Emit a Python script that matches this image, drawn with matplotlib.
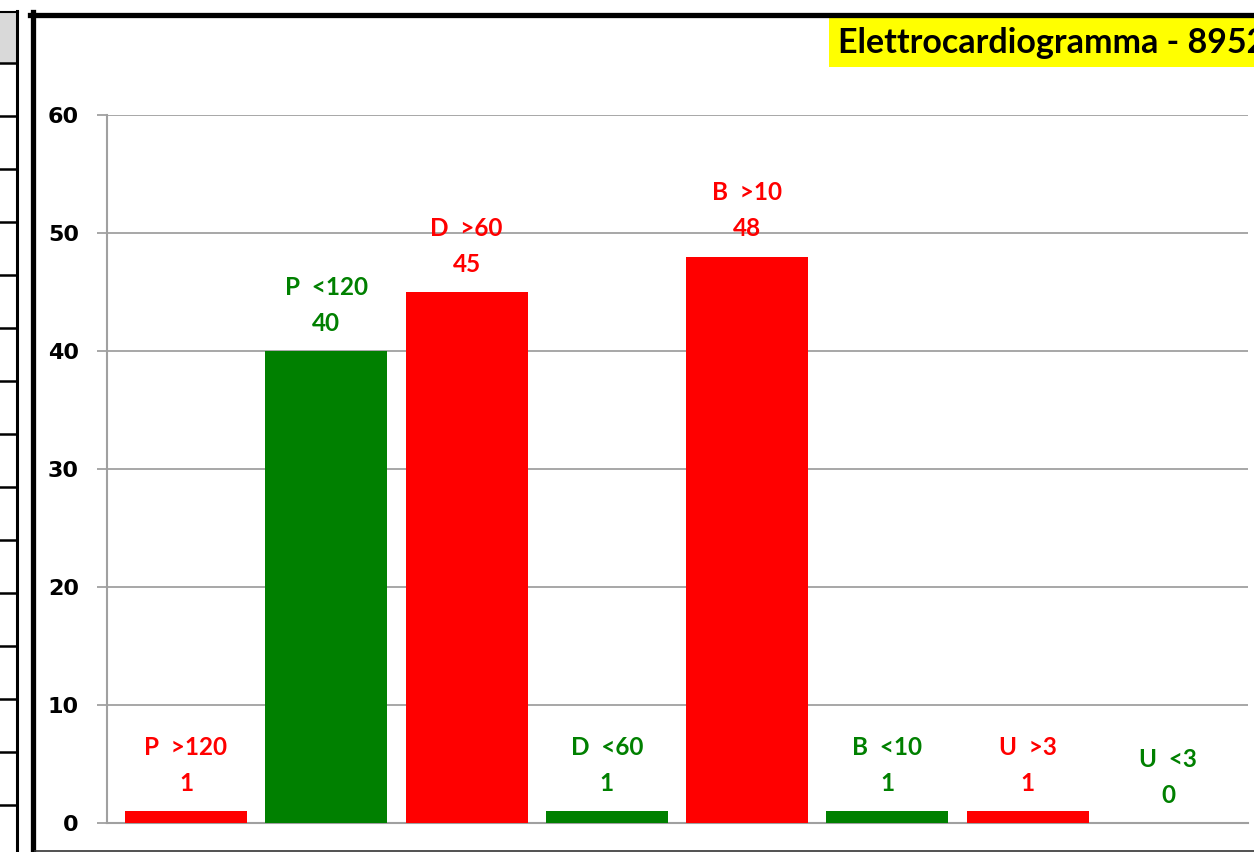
import numpy as np
import matplotlib
matplotlib.use('Agg')
import matplotlib.pyplot as plt
from matplotlib.patches import Rectangle
from matplotlib.lines import Line2D

# data
names = ['P  >120', 'P  <120', 'D  >60', 'D  <60', 'B  >10', 'B  <10', 'U  >3', 'U  <3']
values = [1, 40, 45, 1, 48, 1, 1, 0]
colors = ['#ff0000', '#008000', '#ff0000', '#008000', '#ff0000', '#008000', '#ff0000', '#008000']
yticks = [0, 10, 20, 30, 40, 50, 60]
title = 'Elettrocardiogramma - 8952'

W, H = 1254, 852
fig = plt.figure(figsize=(W / 100, H / 100), dpi=100)

def fx(px):
    return px / W

def fy(py):
    return 1 - py / H

# left strip of the sheet (table cells)
fig.add_artist(Rectangle((0, fy(63)), fx(16), fy(11) - fy(63), transform=fig.transFigure,
                         facecolor='#d9d9d9', edgecolor='none'))
fig.add_artist(Line2D([0, fx(18)], [fy(11.5), fy(11.5)], transform=fig.transFigure, color='black', lw=1.5))
fig.add_artist(Line2D([fx(16.5), fx(16.5)], [fy(11), 0], transform=fig.transFigure, color='black', lw=2.2))
for py in np.arange(63, 810, 53.0):
    fig.add_artist(Line2D([0, fx(17)], [fy(py), fy(py)], transform=fig.transFigure, color='black', lw=1.8))

# chart frame
fig.add_artist(Line2D([fx(32.5), fx(32.5)], [fy(12), 0], transform=fig.transFigure, color='black', lw=3.8))
fig.add_artist(Line2D([fx(30), 1], [fy(14.5), fy(14.5)], transform=fig.transFigure, color='black', lw=3.8))
fig.add_artist(Line2D([fx(35), 1], [fy(851), fy(851)], transform=fig.transFigure, color='#333333', lw=1.2))

# title box
fig.add_artist(Rectangle((fx(829), fy(67)), 1 - fx(829), fy(17) - fy(67), transform=fig.transFigure,
                         facecolor='#ffff00', edgecolor='none'))
fig.text(fx(838), fy(43), title, fontsize=24.5, fontweight='bold', family='Lato',
         ha='left', va='center', color='black')

ax = fig.add_axes([fx(107), fy(823), fx(1248) - fx(107), fy(115) - fy(823)])
x = np.arange(len(values))
ax.bar(x, values, width=0.87, color=colors, zorder=3)
ax.set_xlim(-0.563, 7.57)
ax.set_ylim(0, 60)
ax.set_yticks(yticks)
ax.set_yticklabels([str(t) for t in yticks], fontsize=16, fontweight='bold', family='DejaVu Sans')
ax.set_xticks([])
ax.tick_params(axis='y', length=7.2, width=1.3, color='#a0a0a0', pad=13)
ax.grid(axis='y', color='#a0a0a0', lw=1.3, zorder=0)
for s in ['top', 'right']:
    ax.spines[s].set_visible(False)
for s in ['left', 'bottom']:
    ax.spines[s].set_color('#a0a0a0')
    ax.spines[s].set_linewidth(1.5)

for xi, v, n, c in zip(x, values, names, colors):
    ax.annotate(str(v), (xi, v), xytext=(0, 20), textcoords='offset points', ha='center', va='center',
                fontsize=17.5, fontweight='bold', family='Lato', color=c)
    ax.annotate(n, (xi, v), xytext=(0, 46), textcoords='offset points', ha='center', va='center',
                fontsize=17.5, fontweight='bold', family='Lato', color=c)

fig.savefig('out.png', dpi=100)
